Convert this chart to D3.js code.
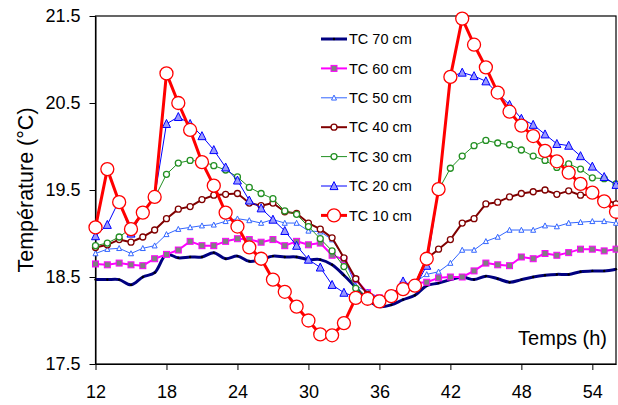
<!DOCTYPE html>
<html>
<head>
<meta charset="utf-8">
<script src="https://cdn.jsdelivr.net/npm/d3@7"></script>
<style>
  body { margin: 0; background: #fff; }
  text { font-family: "Liberation Sans", Arial, sans-serif; fill: #000; }
</style>
</head>
<body>
<svg id="chart" width="618" height="405"></svg>
<script>
// hours (x) and temperature readings per thermocouple depth
var hours = [12,13,14,15,16,17,18,19,20,21,22,23,24,25,26,27,28,29,30,31,32,33,34,
             35,36,37,38,39,40,41,42,43,44,45,46,47,48,49,50,51,52,53,54,55,56];

var tc70 = [18.47,18.47,18.47,18.41,18.50,18.55,18.76,18.72,18.73,18.73,18.78,18.71,18.74,18.68,18.70,18.74,18.73,18.73,18.70,18.70,18.64,18.52,18.38,
            18.24,18.16,18.18,18.24,18.29,18.40,18.43,18.47,18.50,18.47,18.51,18.48,18.44,18.47,18.50,18.52,18.53,18.53,18.56,18.57,18.57,18.59];
var tc60 = [18.65,18.64,18.66,18.64,18.63,18.71,18.76,18.81,18.91,18.86,18.86,18.91,18.94,18.93,18.90,18.93,18.86,18.91,18.87,18.89,18.75,18.70,18.47,
            18.32,18.26,18.28,18.41,18.43,18.44,18.49,18.50,18.50,18.57,18.66,18.64,18.63,18.73,18.71,18.77,18.75,18.78,18.82,18.82,18.80,18.82];
var tc50 = [18.77,18.82,18.83,18.77,18.83,18.86,18.99,19.05,19.07,19.09,19.10,19.14,19.17,19.15,19.12,19.16,19.12,19.12,19.03,19.02,18.93,18.72,18.40,
            18.33,18.26,18.30,18.42,18.44,18.53,18.56,18.66,18.81,18.81,18.91,18.96,19.04,19.04,19.04,19.09,19.08,19.12,19.13,19.14,19.14,19.12];
var tc40 = [18.84,18.87,18.93,18.90,18.96,19.04,19.17,19.28,19.31,19.39,19.44,19.45,19.46,19.35,19.32,19.35,19.25,19.23,19.12,19.05,18.95,18.72,18.48,
            18.30,18.23,18.28,18.37,18.41,18.71,18.82,18.93,19.12,19.17,19.34,19.36,19.42,19.46,19.48,19.50,19.45,19.49,19.44,19.45,19.40,19.34];
var tc30 = [18.86,18.89,18.96,19.06,19.26,19.41,19.68,19.81,19.84,19.83,19.78,19.73,19.65,19.53,19.46,19.40,19.26,19.22,19.08,18.94,18.80,18.62,18.37,
            18.27,18.22,18.27,18.37,18.42,18.68,19.50,19.75,19.89,20.01,20.07,20.04,20.02,19.96,19.89,19.84,19.76,19.80,19.74,19.64,19.63,19.57];
var tc20 = [18.97,19.10,19.38,19.00,19.25,19.42,20.26,20.34,20.26,20.12,19.96,19.76,19.61,19.38,19.29,19.16,19.03,18.86,18.70,18.61,18.41,18.32,18.27,
            18.25,18.20,18.28,18.45,18.38,18.63,19.50,20.80,20.85,20.81,20.75,20.61,20.48,20.32,20.25,20.14,20.03,20.01,19.89,19.77,19.65,19.56];
var tc10 = [19.07,19.74,19.36,19.05,19.24,19.42,20.84,20.50,20.19,19.82,19.55,19.24,19.08,18.84,18.71,18.47,18.33,18.16,18.00,17.84,17.83,17.97,18.26,
            18.25,18.22,18.28,18.36,18.40,18.71,19.51,20.80,21.47,21.17,20.91,20.62,20.40,20.24,20.12,19.95,19.83,19.70,19.57,19.47,19.37,19.25];

var seriesNames = ["TC 70 cm","TC 60 cm","TC 50 cm","TC 40 cm","TC 30 cm","TC 20 cm","TC 10 cm"];
var xTicks = [12,18,24,30,36,42,48,54];
var yTicks = [17.5,18.5,19.5,20.5,21.5];

var styles = [
  {data: tc70, color: "#000080", width: 3,   marker: "dot",      size: 1.2, fill: "#000", mstroke: "#000"},
  {data: tc60, color: "#ff00ff", width: 2,   marker: "square",   size: 6,   fill: "#808080", mstroke: "#ff00ff"},
  {data: tc50, color: "#3366ff", width: 1,   marker: "triangle", size: 5,   fill: "#fff", mstroke: "#3366ff"},
  {data: tc40, color: "#800000", width: 2,   marker: "circle",   size: 3,   fill: "#fff", mstroke: "#800000"},
  {data: tc30, color: "#239023", width: 1,   marker: "circle",   size: 3,   fill: "#fff", mstroke: "#239023"},
  {data: tc20, color: "#0000ff", width: 1,   marker: "triangle", size: 8,   fill: "#9999ff", mstroke: "#0000ff"},
  {data: tc10, color: "#ff0000", width: 3,   marker: "circle",   size: 6.5, fill: "#fff", mstroke: "#ff0000"}
];

var svg = d3.select("#chart");
var pLeft = 95.5, pRight = 616, pTop = 16, pBottom = 364;

var x = d3.scaleLinear().domain([12, 56]).range([pLeft, pRight]);
var y = d3.scaleLinear().domain([17.5, 21.5]).range([pBottom, pTop]);

// plot frame
svg.append("rect")
  .attr("x", pLeft).attr("y", pTop)
  .attr("width", pRight - pLeft).attr("height", pBottom - pTop)
  .attr("fill", "none").attr("stroke", "#000").attr("stroke-width", 1.2);

// axes
svg.append("g")
  .attr("transform", "translate(0," + pBottom + ")")
  .call(d3.axisBottom(x).tickValues(xTicks).tickSize(6).tickSizeOuter(0).tickFormat(d3.format("d")))
  .call(function(g){
    g.select(".domain").attr("stroke", "#000");
    g.selectAll("text").attr("font-size", 18).attr("dy", "1.4em").attr("font-family", "Liberation Sans, Arial");
  });

svg.append("g")
  .attr("transform", "translate(" + pLeft + ",0)")
  .call(d3.axisLeft(y).tickValues(yTicks).tickSize(6).tickSizeOuter(0).tickFormat(d3.format(".1f")))
  .call(function(g){
    g.select(".domain").attr("stroke", "#000");
    g.selectAll("text").attr("font-size", 18).attr("x", -15).attr("font-family", "Liberation Sans, Arial");
  });

// axis titles
svg.append("text")
  .attr("transform", "translate(33,190) rotate(-90)")
  .attr("text-anchor", "middle")
  .attr("font-size", 21.5)
  .text("Température (°C)");

svg.append("text")
  .attr("x", 607).attr("y", 345)
  .attr("text-anchor", "end")
  .attr("font-size", 20)
  .text("Temps (h)");

function drawMarker(g, s, cx, cy) {
  if (s.marker == "circle" || s.marker == "dot") {
    g.append("circle").attr("cx", cx).attr("cy", cy).attr("r", s.size)
      .attr("fill", s.fill).attr("stroke", s.mstroke).attr("stroke-width", s.marker == "dot" ? 0 : 1.3);
  }
  if (s.marker == "square") {
    g.append("rect").attr("x", cx - s.size / 2).attr("y", cy - s.size / 2)
      .attr("width", s.size).attr("height", s.size)
      .attr("fill", s.fill).attr("stroke", s.mstroke).attr("stroke-width", 1);
  }
  if (s.marker == "triangle") {
    var h = s.size;
    g.append("path")
      .attr("d", "M" + cx + "," + (cy - h * 0.55) + "L" + (cx + h * 0.5) + "," + (cy + h * 0.45) + "L" + (cx - h * 0.5) + "," + (cy + h * 0.45) + "Z")
      .attr("fill", s.fill).attr("stroke", s.mstroke).attr("stroke-width", 1);
  }
}

// series lines and markers
styles.forEach(function(s, i){
  var pts = hours.map(function(h, j){ return [h, s.data[j]]; });
  var line = d3.line()
    .x(function(d){ return x(d[0]); })
    .y(function(d){ return y(d[1]); });
  if (i == 0) line.curve(d3.curveCatmullRom);
  var g = svg.append("g");
  g.append("path")
    .attr("d", line(pts))
    .attr("fill", "none")
    .attr("stroke", s.color)
    .attr("stroke-width", s.width)
    .attr("stroke-linejoin", "round");
  pts.forEach(function(p){ drawMarker(g, s, x(p[0]), y(p[1])); });
});

// legend
var lg = svg.append("g");
styles.forEach(function(s, i){
  var ly = 39 + i * 29.4;
  lg.append("line")
    .attr("x1", 321).attr("x2", 347).attr("y1", ly).attr("y2", ly)
    .attr("stroke", s.color).attr("stroke-width", s.width);
  drawMarker(lg, s, 334, ly);
  lg.append("text")
    .attr("x", 349).attr("y", ly)
    .attr("dy", "0.36em")
    .attr("font-size", 14.5)
    .text(seriesNames[i]);
});
</script>
</body>
</html>
